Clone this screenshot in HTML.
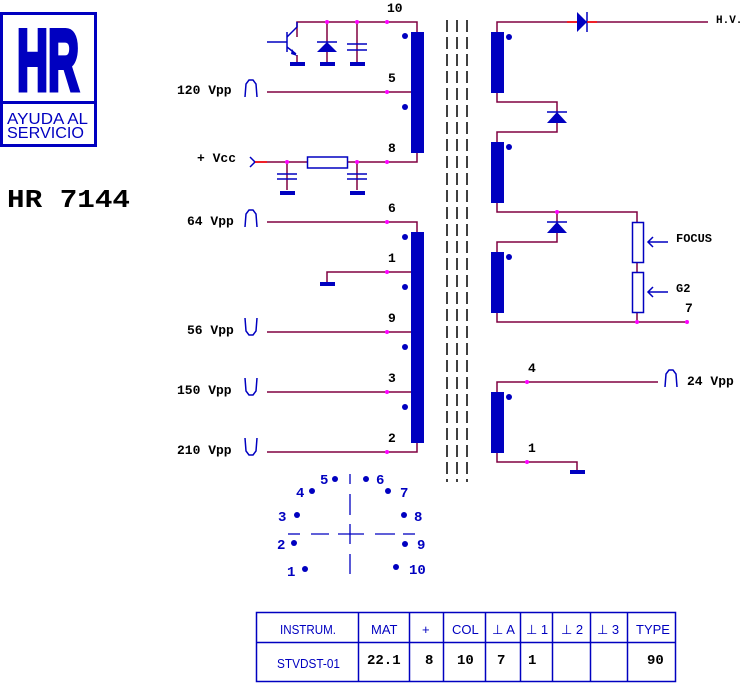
<!DOCTYPE html>
<html><head><meta charset="utf-8"><style>
html,body{margin:0;padding:0;background:#fff;width:754px;height:683px;overflow:hidden}
svg{display:block}
.m{font-family:"Liberation Mono",monospace;font-weight:bold;font-size:13px;fill:#000}
.b{font-family:"Liberation Mono",monospace;font-weight:bold;font-size:14px;fill:#0000c0}
.s{font-family:"Liberation Sans",sans-serif;font-size:13px;fill:#0000c0}
</style></head><body>
<svg width="754" height="683" viewBox="0 0 754 683" xmlns="http://www.w3.org/2000/svg">
<!-- logo -->
<rect x="1.5" y="13.5" width="94" height="132" fill="none" stroke="#0000c0" stroke-width="3"/>
<line x1="1" y1="102.5" x2="96" y2="102.5" stroke="#0000c0" stroke-width="3"/>
<text x="48" y="90" text-anchor="middle" font-family="Liberation Sans,sans-serif" font-weight="bold" font-size="86" fill="#0000c0" stroke="#0000c0" stroke-width="5" stroke-linejoin="miter" textLength="62" lengthAdjust="spacingAndGlyphs">HR</text>
<text x="7" y="124" font-family="Liberation Sans,sans-serif" font-size="16" fill="#0000c0" textLength="81" lengthAdjust="spacingAndGlyphs">AYUDA AL</text>
<text x="7" y="138" font-family="Liberation Sans,sans-serif" font-size="16" fill="#0000c0" textLength="77" lengthAdjust="spacingAndGlyphs">SERVICIO</text>
<text x="7" y="207" font-family="Liberation Mono,monospace" font-weight="bold" font-size="26" fill="#000" textLength="123" lengthAdjust="spacingAndGlyphs">HR 7144</text>

<g stroke="#800040" stroke-width="1.5" fill="none">
<polyline points="297,37 297,22 417,22 417,32"/>
<line x1="267" y1="92" x2="417" y2="92"/>
<polyline points="255,162 417,162 417,152"/>
<polyline points="267,222 417,222 417,232"/>
<polyline points="327,283 327,272 417,272"/>
<line x1="267" y1="332" x2="417" y2="332"/>
<line x1="267" y1="392" x2="417" y2="392"/>
<polyline points="267,452 417,452 417,442"/>
<line x1="327" y1="22" x2="327" y2="62"/>
<line x1="357" y1="22" x2="357" y2="62"/>
<line x1="297" y1="55" x2="297" y2="62"/>
<line x1="287" y1="162" x2="287" y2="190"/>
<line x1="357" y1="162" x2="357" y2="190"/>
<polyline points="497,32 497,22 708,22"/>
<polyline points="497,92 497,102 557,102 557,132 497,132 497,142"/>
<polyline points="497,202 497,212 637,212 637,222"/>
<polyline points="557,212 557,242 497,242 497,252"/>
<line x1="637" y1="262" x2="637" y2="272"/>
<polyline points="497,312 497,322 687,322"/>
<line x1="637" y1="312" x2="637" y2="322"/>
<polyline points="497,392 497,382 658,382"/>
<polyline points="497,452 497,462 577,462 577,470"/>
</g>
<g fill="#0000c0">
<rect x="411" y="32" width="13" height="121"/>
<rect x="411" y="232" width="13" height="211"/>
<rect x="491" y="32" width="13" height="61"/>
<rect x="491" y="142" width="13" height="61"/>
<rect x="491" y="252" width="13" height="61"/>
<rect x="491" y="392" width="13" height="61"/>
<circle cx="405" cy="36" r="3"/><circle cx="405" cy="107" r="3"/>
<circle cx="405" cy="237" r="3"/><circle cx="405" cy="287" r="3"/>
<circle cx="405" cy="347" r="3"/><circle cx="405" cy="407" r="3"/>
<circle cx="509" cy="37" r="3"/><circle cx="509" cy="147" r="3"/>
<circle cx="509" cy="257" r="3"/><circle cx="509" cy="397" r="3"/>
<rect x="290" y="62" width="15" height="4"/><rect x="320" y="62" width="15" height="4"/><rect x="350" y="62" width="15" height="4"/>
<rect x="280" y="191" width="15" height="4"/><rect x="350" y="191" width="15" height="4"/>
<rect x="320" y="282" width="15" height="4"/>
<rect x="570" y="470" width="15" height="4"/>
<polygon points="317,52 337,52 327,42"/>
<polygon points="547,123 567,123 557,112"/>
<polygon points="547,233 567,233 557,222"/>
<polygon points="577,12 577,32 587,22"/>
<polygon points="292,49 297,56 291,54"/>
</g>
<g stroke="#0000c0" stroke-width="1.5" fill="none">
<line x1="267" y1="42" x2="287" y2="42"/>
<line x1="287" y1="32" x2="287" y2="52"/>
<polyline points="297,22 297,27 287,37"/>
<line x1="287" y1="47" x2="296" y2="54"/>
<line x1="317" y1="42" x2="337" y2="42"/>
<line x1="347" y1="44" x2="367" y2="44"/><line x1="347" y1="50" x2="367" y2="50"/>
<line x1="277" y1="174" x2="297" y2="174"/><line x1="277" y1="179" x2="297" y2="179"/>
<line x1="347" y1="174" x2="367" y2="174"/><line x1="347" y1="179" x2="367" y2="179"/>
<rect x="307.5" y="157" width="40" height="11" fill="#fff"/>
<polyline points="250,157 255,162 250,167"/>
<line x1="547" y1="112" x2="567" y2="112"/>
<line x1="547" y1="222" x2="567" y2="222"/>
<line x1="587" y1="12" x2="587" y2="32"/>
<rect x="632.5" y="222.5" width="11" height="40" fill="#fff"/>
<rect x="632.5" y="272.5" width="11" height="40" fill="#fff"/>
<line x1="648" y1="242" x2="668" y2="242"/><polyline points="653,237 648,242 653,247"/>
<line x1="648" y1="292" x2="668" y2="292"/><polyline points="653,287 648,292 653,297"/>
<path d="M245,97 L246,84 L249,80 H253 L256,84 L257,97"/>
<path d="M245,227 L246,214 L249,210 H253 L256,214 L257,227"/>
<path d="M665,387 L666,374 L669,370 H673 L676,374 L677,387"/>
<path d="M245,318 L246,331 L249,335 H253 L256,331 L257,318"/>
<path d="M245,378 L246,391 L249,395 H253 L256,391 L257,378"/>
<path d="M245,438 L246,451 L249,455 H253 L256,451 L257,438"/>
</g>
<g stroke="#ff0000" stroke-width="1.5">
<line x1="577" y1="22" x2="567" y2="22"/><line x1="587" y1="22" x2="597" y2="22"/>
<line x1="255" y1="162" x2="267" y2="162"/>
</g>
<g stroke="#000" stroke-width="1.5" stroke-dasharray="12,5">
<line x1="447" y1="20" x2="447" y2="482"/><line x1="457" y1="20" x2="457" y2="482"/><line x1="467" y1="20" x2="467" y2="482"/>
</g>
<g fill="#ff00ff">
<circle cx="327" cy="22" r="2"/><circle cx="357" cy="22" r="2"/><circle cx="387" cy="22" r="2"/>
<circle cx="387" cy="92" r="2"/><circle cx="287" cy="162" r="2"/><circle cx="357" cy="162" r="2"/><circle cx="387" cy="162" r="2"/>
<circle cx="387" cy="222" r="2"/><circle cx="387" cy="272" r="2"/><circle cx="387" cy="332" r="2"/>
<circle cx="387" cy="392" r="2"/><circle cx="387" cy="452" r="2"/>
<circle cx="557" cy="212" r="2"/><circle cx="637" cy="322" r="2"/><circle cx="687" cy="322" r="2"/>
<circle cx="527" cy="382" r="2"/><circle cx="527" cy="462" r="2"/>
</g>
<g class="m">
<text x="387" y="12">10</text><text x="388" y="82">5</text><text x="388" y="152">8</text>
<text x="388" y="212">6</text><text x="388" y="262">1</text><text x="388" y="322">9</text>
<text x="388" y="382">3</text><text x="388" y="442">2</text>
<text x="177" y="94">120 Vpp</text><text x="197" y="162">+ Vcc</text>
<text x="187" y="225">64 Vpp</text><text x="187" y="334">56 Vpp</text>
<text x="177" y="394">150 Vpp</text><text x="177" y="454">210 Vpp</text>
<text x="716" y="23" font-size="11">H.V.</text>
<text x="676" y="242" font-size="12">FOCUS</text><text x="676" y="292" font-size="12">G2</text>
<text x="685" y="312">7</text><text x="528" y="372">4</text><text x="528" y="452">1</text>
<text x="687" y="385">24 Vpp</text>
</g>
<g fill="#0000c0">
<circle cx="335" cy="479" r="3"/><circle cx="366" cy="479" r="3"/><circle cx="312" cy="491" r="3"/><circle cx="388" cy="491" r="3"/>
<circle cx="297" cy="515" r="3"/><circle cx="404" cy="515" r="3"/><circle cx="294" cy="543" r="3"/><circle cx="405" cy="544" r="3"/>
<circle cx="305" cy="569" r="3"/><circle cx="396" cy="567" r="3"/>
</g>
<g class="b">
<text x="320" y="484">5</text><text x="376" y="484">6</text><text x="296" y="497">4</text><text x="400" y="497">7</text>
<text x="278" y="521">3</text><text x="414" y="521">8</text><text x="277" y="549">2</text><text x="417" y="549">9</text>
<text x="287" y="576">1</text><text x="409" y="574">10</text>
</g>
<g stroke="#0000c0" stroke-width="1.3">
<line x1="350" y1="474" x2="350" y2="484"/><line x1="350" y1="494" x2="350" y2="515"/>
<line x1="350" y1="524" x2="350" y2="544"/><line x1="350" y1="554" x2="350" y2="574"/>
<line x1="288" y1="534" x2="300" y2="534"/><line x1="311" y1="534" x2="329" y2="534"/>
<line x1="338" y1="534" x2="364" y2="534"/><line x1="375" y1="534" x2="395" y2="534"/><line x1="403" y1="534" x2="415" y2="534"/>
</g>
<g stroke="#0000c0" stroke-width="1.5" fill="none">
<rect x="256.5" y="612.5" width="419" height="69"/>
<line x1="256" y1="642.5" x2="676" y2="642.5"/>
<line x1="358.5" y1="612" x2="358.5" y2="682"/><line x1="409.5" y1="612" x2="409.5" y2="682"/>
<line x1="443.5" y1="612" x2="443.5" y2="682"/><line x1="485.5" y1="612" x2="485.5" y2="682"/>
<line x1="520.5" y1="612" x2="520.5" y2="682"/><line x1="552.5" y1="612" x2="552.5" y2="682"/>
<line x1="590.5" y1="612" x2="590.5" y2="682"/><line x1="627.5" y1="612" x2="627.5" y2="682"/>
</g>
<g class="s">
<text x="280" y="634" textLength="56" lengthAdjust="spacingAndGlyphs">INSTRUM.</text><text x="371" y="634">MAT</text><text x="422" y="634">+</text>
<text x="452" y="634">COL</text><text x="492" y="634">⊥ A</text><text x="526" y="634">⊥ 1</text>
<text x="561" y="634">⊥ 2</text><text x="597" y="634">⊥ 3</text><text x="636" y="634">TYPE</text>
<text x="277" y="668" textLength="63" lengthAdjust="spacingAndGlyphs">STVDST-01</text>
</g>
<g class="m" font-size="14">
<text x="367" y="664" font-size="14">22.1</text><text x="425" y="664" font-size="14">8</text><text x="457" y="664" font-size="14">10</text>
<text x="497" y="664" font-size="14">7</text><text x="528" y="664" font-size="14">1</text><text x="647" y="664" font-size="14">90</text>
</g>
</svg>
</body></html>
